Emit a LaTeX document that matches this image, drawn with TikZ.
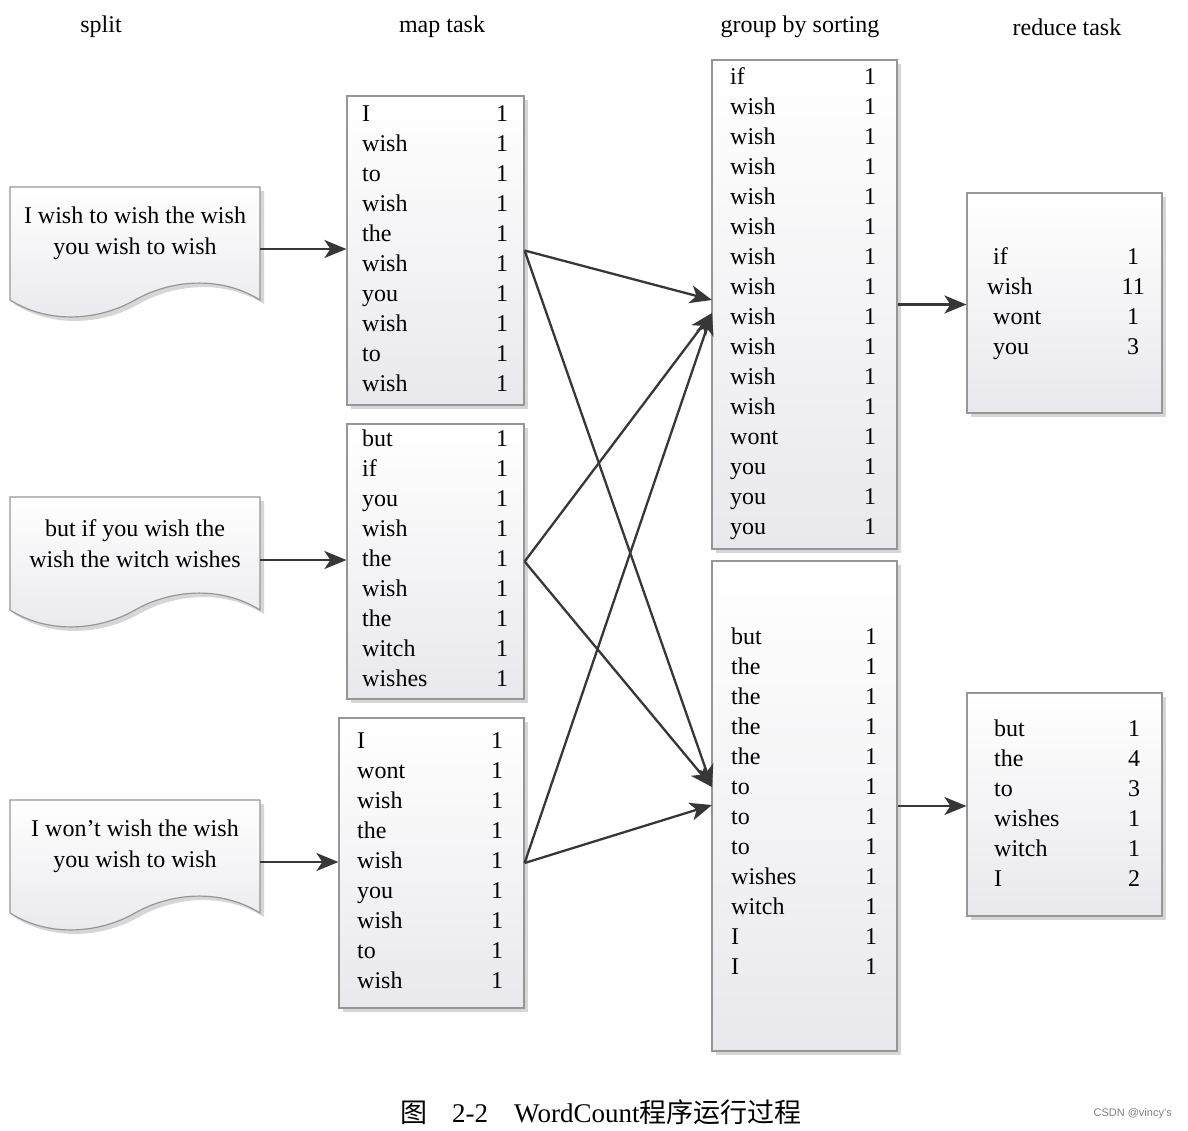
\documentclass[tikz,border=0pt]{standalone}
\usepackage{fontspec}
\setmainfont{Liberation Serif}
\setsansfont{Liberation Sans}
\newfontfamily\cjk{Noto Sans CJK SC}
\usetikzlibrary{arrows.meta,shadows}
\definecolor{boxbot}{RGB}{233,233,237}
\definecolor{boxline}{RGB}{150,150,150}
\definecolor{arrcol}{RGB}{55,55,55}
\newcommand\wrow[2]{\makebox[128pt][l]{#1}\makebox[24pt]{#2}\\}
\tikzset{
  shad/.style={drop shadow={shadow xshift=4pt,shadow yshift=-4pt,fill=black,opacity=0.16}},
  box/.style={draw=boxline, line width=1.2pt, top color=white, bottom color=boxbot, shad, inner sep=0pt},
  tbl/.style={inner sep=0pt, anchor=west, font=\fontsize{24}{30}\selectfont},
  arr/.style={draw=arrcol, line width=2.3pt, -{Stealth[length=22pt,width=18pt,inset=6pt]}},
  hdr/.style={inner sep=0pt, font=\fontsize{24}{28}\selectfont},
  docshape/.style={draw=boxline, line width=1.2pt, top color=white, bottom color=boxbot, shad},
  doctext/.style={align=center, inner sep=0pt, font=\fontsize{24}{31}\selectfont}
}
\newcommand\docpath[1]{%
  \draw[docshape, shift={(0,#1)}] (10,187) -- (260,187) -- (260,300)
    .. controls (220,275) and (170,280) .. (135,300)
    .. controls (100,320) and (50,325) .. (10,300) -- cycle;}
\begin{document}
\begin{tikzpicture}[x=1pt,y=-1pt]
\fill[white] (0,0) rectangle (1188,1130);
\useasboundingbox (0,0) rectangle (1188,1130);

% headers
\node[hdr] (h1) at (101,27) {split};
\node[hdr] (h2) at (442,27) {map task};
\node[hdr] (h3) at (800,27) {group by sorting};
\node[hdr] (h4) at (1067,27) {reduce task};

% documents
\docpath{0}
\docpath{310}
\docpath{613}
\node[doctext] (d1) at (135,233.5) {I wish to wish the wish\\you wish to wish};
\node[doctext] (d2) at (135,543.5) {but if you wish the\\wish the witch wishes};
\node[doctext] (d3) at (135,846.5) {I won't wish the wish\\you wish to wish};
\coordinate (d1o) at (260,249);
\coordinate (d2o) at (260,560);
\coordinate (d3o) at (260,862);

% map boxes
\node[box, minimum width=177pt, minimum height=309pt] (m1) at (435.5,250.5) {};
\node[box, minimum width=177pt, minimum height=275pt] (m2) at (435.5,561.5) {};
\node[box, minimum width=185pt, minimum height=290pt] (m3) at (431.5,863) {};
\node[tbl] (m1t) at (362,250) {\begin{tabular}{@{}l@{}}
\wrow{I}{1}\wrow{wish}{1}\wrow{to}{1}\wrow{wish}{1}\wrow{the}{1}
\wrow{wish}{1}\wrow{you}{1}\wrow{wish}{1}\wrow{to}{1}\wrow{wish}{1}
\end{tabular}};
\node[tbl] (m2t) at (362,560) {\begin{tabular}{@{}l@{}}
\wrow{but}{1}\wrow{if}{1}\wrow{you}{1}\wrow{wish}{1}\wrow{the}{1}
\wrow{wish}{1}\wrow{the}{1}\wrow{witch}{1}\wrow{wishes}{1}
\end{tabular}};
\node[tbl] (m3t) at (357,862) {\begin{tabular}{@{}l@{}}
\wrow{I}{1}\wrow{wont}{1}\wrow{wish}{1}\wrow{the}{1}\wrow{wish}{1}
\wrow{you}{1}\wrow{wish}{1}\wrow{to}{1}\wrow{wish}{1}
\end{tabular}};

% group boxes
\node[box, minimum width=185pt, minimum height=489pt] (g1) at (804.5,304.5) {};
\node[box, minimum width=185pt, minimum height=490pt] (g2) at (804.5,806) {};
\node[tbl] (g1t) at (730,303) {\begin{tabular}{@{}l@{}}
\wrow{if}{1}\wrow{wish}{1}\wrow{wish}{1}\wrow{wish}{1}\wrow{wish}{1}
\wrow{wish}{1}\wrow{wish}{1}\wrow{wish}{1}\wrow{wish}{1}\wrow{wish}{1}
\wrow{wish}{1}\wrow{wish}{1}\wrow{wont}{1}\wrow{you}{1}\wrow{you}{1}
\wrow{you}{1}
\end{tabular}};
\node[tbl] (g2t) at (731,803.5) {\begin{tabular}{@{}l@{}}
\wrow{but}{1}\wrow{the}{1}\wrow{the}{1}\wrow{the}{1}\wrow{the}{1}
\wrow{to}{1}\wrow{to}{1}\wrow{to}{1}\wrow{wishes}{1}\wrow{witch}{1}
\wrow{I}{1}\wrow{I}{1}
\end{tabular}};

% reduce boxes
\node[box, minimum width=195pt, minimum height=220pt] (r1) at (1064.5,303) {};
\node[box, minimum width=195pt, minimum height=223pt] (r2) at (1064.5,804.5) {};
\node[tbl] (r1t) at (993,303) {\begin{tabular}{@{}l@{}}
\wrow{if}{1}\wrow{\hspace*{-6pt}wish}{11}\wrow{wont}{1}\wrow{you}{3}
\end{tabular}};
\node[tbl] (r2t) at (994,805) {\begin{tabular}{@{}l@{}}
\wrow{but}{1}\wrow{the}{4}\wrow{to}{3}\wrow{wishes}{1}\wrow{witch}{1}
\wrow{I}{2}
\end{tabular}};

% split -> map
\draw[arr] (d1o) -- (d1o -| m1.west);
\draw[arr] (d2o) -- (d2o -| m2.west);
\draw[arr] (d3o) -- (d3o -| m3.west);

% map -> group
\coordinate (g1a) at (712,300);
\coordinate (g1b) at (712,313);
\coordinate (g2a) at (712,787);
\coordinate (g2b) at (712,805);
\draw[arr] (m1.east) -- (g1a);
\draw[arr] (m1.east) -- (g2a);
\draw[arr] (m2.east) -- (g1b);
\draw[arr] (m2.east) -- (g2a);
\draw[arr] (m3.east) -- (g1b);
\draw[arr] (m3.east) -- (g2b);

% group -> reduce
\draw[arr] (g1.east) -- (g1.east -| r1.west);
\draw[arr] (g2.east) -- (g2.east -| r2.west);

% caption
\node[anchor=base west, inner sep=0pt, font=\fontsize{27}{30}\selectfont] (cap) at (400,1122)
  {{\cjk 图}\hspace{25pt}2-2\hspace{26pt}WordCount{\cjk 程序运行过程}};
\node[anchor=base east, inner sep=0pt, text=gray, font=\sffamily\fontsize{11}{12}\selectfont] (wm) at (1172,1116) {CSDN @vincy's};
\end{tikzpicture}
\end{document}
